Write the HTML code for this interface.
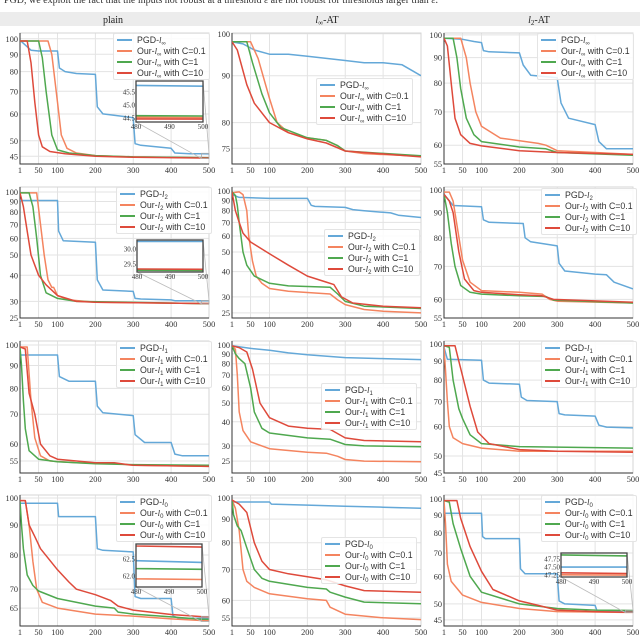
<!DOCTYPE html>
<html><head><meta charset="utf-8">
<style>
html,body{margin:0;padding:0;background:#fff;}
#wrap{position:relative;width:640px;height:636px;overflow:hidden;font-family:"Liberation Serif",serif;}
svg{position:absolute;left:0;top:0;}
.leg{position:absolute;background:rgba(255,255,255,0.85);border:1px solid #e4e4e4;border-radius:2px;font-family:"Liberation Sans",sans-serif;font-size:8.8px;color:#333;padding:1px 3px 0 3px;}
.le{height:11px;line-height:11px;white-space:nowrap;}
.le sub{font-size:6px;line-height:0;vertical-align:-2px;}
.sw{display:inline-block;width:15px;height:0;border-top:2px solid;vertical-align:middle;margin-right:5px;position:relative;top:-1px;}
</style></head><body>
<div id="wrap">
<svg id="svg" width="640" height="636"></svg>
</div>
<script>
// ---------- data (x = iteration, y = accuracy %) ----------
const xTicks = [1,50,100,200,300,400,500];
const colTitles = ["plain","∞-AT","2-AT"];
const rowNorms = ["∞","2","1","0"];
const seriesLabels = ["PGD","C=0.1","C=1","C=10"];

const yt11=[100,90,80,70,60,50,45];
const yt12=[100,90,80,75];
const yt13=[100,90,80,70,60,55];
const yt21=[100,90,80,70,60,50,40,30,25];
const yt22=[100,90,80,70,60,50,40,30,25];
const yt23=[100,90,80,70,60,55];
const yt31=[100,90,80,70,60,55];
const yt32=[100,90,80,70,60,50,40,30,25];
const yt33=[100,90,80,70,60,50,45];
const yt41=[100,90,80,70,65];
const yt42=[100,90,80,70,60,55];
const yt43=[100,90,80,70,60,50,45];

const yr11=[42.7,104], yr12=[72.1,100.2], yr13=[55,100.9];
const yr21=[25,105.6], yr22=[23.6,104.7], yr23=[55,101.4];
const yr31=[51.7,102.1], yr32=[21.7,104.9], yr33=[45,101.9];
const yr41=[60.6,101.2], yr42=[52.8,101.5], yr43=[43.2,102.7];

const p11_pgd=[[1,99],[10,97],[30,92.5],[50,92],[100,92],[105,82],[120,80],[150,79],[200,78.5],[205,63],[220,60],[300,58.5],[305,49],[320,48.5],[400,47.5],[410,46],[450,45.8],[480,45.75],[500,45.72]];
const p11_c01=[[1,98.5],[75,98.5],[85,90],[100,65],[110,52],[125,47.5],[150,46],[200,45.2],[300,44.8],[480,44.53],[500,44.52]];
const p11_c1=[[1,98.5],[50,98.5],[60,88],[70,70],[85,52],[100,47],[130,46],[200,45.2],[300,44.8],[480,44.59],[500,44.58]];
const p11_c10=[[1,98.5],[20,98.5],[30,85],[40,65],[50,52],[60,48],[80,46.5],[120,45.8],[200,45],[300,44.7],[480,44.47],[500,44.46]];

const p12_pgd=[[1,98],[30,97.5],[60,96],[100,95],[150,95],[200,94.5],[300,93.5],[350,93],[400,93],[450,92.5],[480,91],[500,90]];
const p12_c01=[[1,98],[50,98],[70,94],[100,85],[120,80],[150,78],[200,77],[250,76.5],[280,75.5],[300,74.5],[350,74],[500,73.5]];
const p12_c1=[[1,98],[40,98],[55,93],[80,86],[100,82],[130,79],[200,77],[250,76.5],[280,75.5],[300,74.5],[500,73.6]];
const p12_c10=[[1,98],[15,96],[40,88],[60,84],[100,80],[150,78],[200,76.8],[250,76],[300,74.5],[500,73.4]];

const p13_pgd=[[1,98.5],[50,98],[80,97],[100,96.5],[105,93],[120,92.5],[200,92],[210,87],[230,83],[300,82],[310,73],[330,68],[400,66],[410,61],[430,59],[500,59]];
const p13_c01=[[1,98.5],[45,98.5],[60,90],[70,80],[85,70],[100,65.5],[150,62],[250,60.5],[270,60],[300,58.5],[400,58],[500,57.5]];
const p13_c1=[[1,98.5],[25,98.5],[35,90],[45,78],[60,68],[80,63],[100,61],[200,59.5],[270,59],[300,58],[500,57.3]];
const p13_c10=[[1,98.5],[10,95],[20,80],[30,68],[45,63],[70,60.5],[100,59.8],[200,58.5],[300,58],[500,57.5]];

const p21_pgd=[[1,91],[100,91],[103,65],[115,58.5],[200,57.5],[205,38],[220,34],[300,33.5],[305,31],[320,30.8],[400,30.5],[410,30.25],[500,30.25]];
const p21_c01=[[1,99],[45,99],[55,70],[65,50],[75,38],[85,35],[90,35],[100,32],[130,30.5],[200,29.7],[480,29.31],[500,29.3]];
const p21_c1=[[1,99],[25,99],[35,85],[45,60],[55,40],[70,33],[100,31],[150,30],[480,29.29],[500,29.28]];
const p21_c10=[[1,99],[10,85],[20,65],[30,50],[50,40],[70,36],[100,32],[150,30],[200,29.7],[480,29.33],[500,29.32]];

const p22_pgd=[[1,96],[20,93],[100,92],[200,92],[210,85],[220,84],[300,83],[320,81],[350,80],[400,78.5],[420,78],[440,76],[500,74]];
const p22_c01=[[1,98],[20,99],[30,96],[40,80],[45,60],[55,45],[65,38],[80,35],[100,33],[150,32],[260,31],[280,29],[300,27.5],[350,26],[400,25.5],[500,25]];
const p22_c1=[[1,99],[10,95],[15,85],[20,70],[30,50],[40,43],[60,38],[100,35],[150,34],[260,33.5],[280,31],[300,28.5],[350,27],[500,26.3]];
const p22_c10=[[1,99],[10,80],[20,70],[30,62],[50,56],[100,49],[150,43],[200,38],[250,35.5],[270,34.5],[290,30],[320,28],[400,27],[500,26.5]];

const p23_pgd=[[1,98],[25,93],[100,92.5],[105,87],[120,86],[210,85.5],[215,80],[230,78.5],[300,77],[305,71],[320,68.5],[400,67.5],[430,67.3],[450,65],[500,63]];
const p23_c01=[[1,99],[15,99],[25,95],[35,85],[50,72],[70,65],[100,62.5],[200,62],[260,61.5],[280,60],[300,59.5],[500,59]];
const p23_c1=[[1,98],[10,90],[20,78],[30,70],[45,64],[70,62],[100,61.5],[200,61],[270,60.8],[290,59.8],[500,59]];
const p23_c10=[[1,98],[15,95],[25,90],[40,75],[55,66],[80,62.5],[100,62],[200,61.3],[260,61],[290,60],[500,59.2]];

const p31_pgd=[[1,95],[100,95],[105,85],[130,83],[200,83],[205,73],[220,70.5],[300,69.5],[305,63],[330,60.5],[400,60.5],[410,57],[430,56.5],[500,56.5]];
const p31_c01=[[1,99],[20,99],[30,75],[40,62],[55,56.5],[80,55],[150,54.5],[250,54.3],[300,53.8],[500,53.5]];
const p31_c1=[[1,99],[5,90],[10,75],[15,65],[25,58],[50,55.5],[100,54.8],[200,54.2],[300,54],[500,53.8]];
const p31_c10=[[1,99],[15,98],[25,78],[40,70],[55,60],[80,56.5],[100,55.5],[200,54.5],[250,54.5],[300,53.8],[500,53.5]];

const p32_pgd=[[1,99],[50,96],[100,94],[150,91],[200,89],[300,86],[400,85],[500,84]];
const p32_c01=[[1,99],[10,95],[15,70],[20,45],[30,36],[50,31.5],[100,29],[200,27.8],[250,27.5],[280,26.5],[300,25.5],[350,25],[500,24.8]];
const p32_c1=[[1,99],[10,90],[20,85],[35,80],[50,60],[60,45],[80,37],[100,35],[200,33],[260,32.5],[300,30.5],[350,30],[500,29.7]];
const p32_c10=[[1,99],[20,97],[40,92],[55,75],[75,50],[100,42],[150,38],[200,37],[260,36.5],[300,33],[350,32],[500,31.5]];

const p33_pgd=[[1,98],[10,91],[100,90.5],[105,80],[120,78.5],[200,78],[205,72],[220,70.5],[300,70],[305,65],[320,64.5],[400,64],[410,60.5],[430,59.8],[500,59.5]];
const p33_c01=[[1,98],[5,85],[10,70],[15,60],[25,56],[50,54],[100,52.5],[200,51.5],[500,51.5]];
const p33_c1=[[1,99],[15,98],[25,80],[40,67],[50,63],[70,57],[100,54],[200,53],[500,52.5]];
const p33_c10=[[1,99],[30,99],[40,90],[50,82],[70,68],[90,58],[120,54],[200,52],[300,51.5],[500,51.2]];

const p41_pgd=[[1,98],[100,98],[103,93],[200,93],[205,82],[220,81.5],[300,81],[305,68],[320,67.5],[400,67.5],[405,63],[420,62.5],[480,62.45],[500,62.4]];
const p41_c01=[[1,99],[15,99],[25,90],[35,78],[45,70],[60,66.5],[100,65],[200,63.5],[300,63],[400,62.3],[480,61.92],[500,61.9]];
const p41_c1=[[1,99],[5,90],[10,82],[20,74],[35,71],[50,69.5],[100,67.5],[200,65.5],[250,65],[260,64],[300,63.5],[400,62.8],[480,62.22],[500,62.2]];
const p41_c10=[[1,99],[15,99],[25,90],[40,86],[55,82],[100,75.5],[130,72],[150,70],[200,68.5],[240,67],[260,65.5],[300,64.5],[400,63.4],[480,62.88],[500,62.85]];

const p42_pgd=[[1,98],[100,98],[105,97],[200,96.5],[300,96],[400,95.5],[500,95]];
const p42_c01=[[1,99],[10,95],[20,85],[30,70],[40,66],[60,64],[100,62],[200,60.5],[250,60],[260,58],[300,56],[400,55],[500,54.5]];
const p42_c1=[[1,99],[5,92],[15,87],[25,85],[40,78],[60,70],[80,67],[100,66],[200,64],[250,63.5],[260,62.5],[300,61],[350,59.5],[500,59]];
const p42_c10=[[1,99],[20,97],[40,93],[60,80],[80,73],[100,70],[150,68.5],[200,67.5],[250,66.5],[300,64.5],[350,63],[500,62.5]];

const p43_pgd=[[1,91],[100,91],[103,78],[110,77],[200,77],[203,63],[215,61],[300,61],[305,51],[320,50],[400,49.5],[405,47.8],[480,47.5],[500,47.5]];
const p43_c01=[[1,99],[5,85],[10,65],[20,58],[50,53],[100,50.5],[200,48.5],[300,47.5],[480,47.26],[500,47.25]];
const p43_c1=[[1,99],[15,98],[25,85],[45,72],[70,60],[100,54],[150,52],[200,50],[300,48.5],[400,48],[480,47.88],[500,47.85]];
const p43_c10=[[1,99],[35,99],[45,88],[70,73],[100,62],[130,55],[200,51],[250,49.5],[300,48],[400,47.5],[480,47.32],[500,47.3]];

// inset y-limits and ticks
const in11_y=[44.35,45.92], in11_t=[44.5,45.0,45.5];
const in21_y=[29.23,30.3], in21_t=[29.5,30.0];
const in41_y=[61.68,62.94], in41_t=[62.0,62.5];
const in43_y=[47.19,47.94], in43_t=[47.25,47.5,47.75];
const insetX=[480,500], insetXT=[480,490,500];

// ---------- layout ----------
const colors=["#64a8d8","#f4845f","#4fa84f","#de4a3b"];
const colX=[[20,209],[232,421],[444,633]];
const rowY=[[33,164],[187,318],[341,473],[495,626]];
const P={
 "11":{yr:yr11,yt:yt11,s:[p11_pgd,p11_c01,p11_c1,p11_c10],leg:[113,33],inset:{box:[136,81,203,122],yr:in11_y,yt:in11_t}},
 "12":{yr:yr12,yt:yt12,s:[p12_pgd,p12_c01,p12_c1,p12_c10],leg:[316,78]},
 "13":{yr:yr13,yt:yt13,s:[p13_pgd,p13_c01,p13_c1,p13_c10],leg:[537,33]},
 "21":{yr:yr21,yt:yt21,s:[p21_pgd,p21_c01,p21_c1,p21_c10],leg:[116,187],inset:{box:[137,240,203,272],yr:in21_y,yt:in21_t}},
 "22":{yr:yr22,yt:yt22,s:[p22_pgd,p22_c01,p22_c1,p22_c10],leg:[324,229]},
 "23":{yr:yr23,yt:yt23,s:[p23_pgd,p23_c01,p23_c1,p23_c10],leg:[541,188]},
 "31":{yr:yr31,yt:yt31,s:[p31_pgd,p31_c01,p31_c1,p31_c10],leg:[116,341]},
 "32":{yr:yr32,yt:yt32,s:[p32_pgd,p32_c01,p32_c1,p32_c10],leg:[321,383]},
 "33":{yr:yr33,yt:yt33,s:[p33_pgd,p33_c01,p33_c1,p33_c10],leg:[541,341]},
 "41":{yr:yr41,yt:yt41,s:[p41_pgd,p41_c01,p41_c1,p41_c10],leg:[116,495],inset:{box:[136,544,202,587],yr:in41_y,yt:in41_t}},
 "42":{yr:yr42,yt:yt42,s:[p42_pgd,p42_c01,p42_c1,p42_c10],leg:[321,537]},
 "43":{yr:yr43,yt:yt43,s:[p43_pgd,p43_c01,p43_c1,p43_c10],leg:[541,495],inset:{box:[561,553,627,577],yr:in43_y,yt:in43_t}}
};

const NS="http://www.w3.org/2000/svg";
const svg=document.getElementById("svg");
const wrap=document.getElementById("wrap");
function mk(tag,attrs,parent){const e=document.createElementNS(NS,tag);for(const k in attrs)e.setAttribute(k,attrs[k]);(parent||svg).appendChild(e);return e;}

// header
let t0=mk("text",{x:4,y:3,"font-size":"10","fill":"#333","font-family":"Liberation Serif, serif"});


t0.textContent="PGD, we exploit the fact that the inputs not robust at a threshold ε are not robust for thresholds larger than ε.";
let band=mk("rect",{x:0,y:12,width:640,height:14,fill:"#ececec"});


const titleX=[113,327,539];
for(let c=0;c<3;c++){
  const t=mk("text",{x:titleX[c],y:23,"text-anchor":"middle","font-size":"10","fill":"#222"});
  
  
  if(c===0){t.textContent=colTitles[0];}
  else{
    const a=mk("tspan",{"font-style":"italic"},t);a.textContent="l";
    const b=mk("tspan",{"font-size":"7",dy:"2"},t);b.textContent=colTitles[c].split("-")[0];
    const d=mk("tspan",{dy:"-2"},t);d.textContent="-AT";
  }
}

function logScale(v,yr,y0,y1){const a=Math.log(yr[0]),b=Math.log(yr[1]);return y1-(Math.log(v)-a)/(b-a)*(y1-y0);}
function linScale(v,d,p0,p1){return p0+(v-d[0])/(d[1]-d[0])*(p1-p0);}

let clipId=0;
for(let r=0;r<4;r++)for(let c=0;c<3;c++){
  const key=""+(r+1)+(c+1), p=P[key];
  const [x0,x1]=colX[c],[y0,y1]=rowY[r];
  const g=mk("g",{});
  
  
  const xs=v=>linScale(v,[1,500],x0,x1);
  const ys=v=>logScale(v,p.yr,y0,y1);
  xTicks.forEach(v=>{
    const l=mk("line",{x1:xs(v),x2:xs(v),y1:y0,y2:y1,stroke:"#e3e3e3","stroke-width":"1"},g);
    
    
    const t=mk("text",{x:xs(v),y:y1+9,"text-anchor":"middle","font-size":"8.3","fill":"#333"},g);
    
    
    t.textContent=v;
  });
  p.yt.forEach(v=>{
    const l=mk("line",{x1:x0,x2:x1,y1:ys(v),y2:ys(v),stroke:"#e3e3e3","stroke-width":"1"},g);
    
    
    const t=mk("text",{x:x0-2,y:ys(v)+3,"text-anchor":"end","font-size":"8.3","fill":"#333"},g);
    
    
    t.textContent=v;
  });
  const fr=mk("rect",{x:x0,y:y0,width:x1-x0,height:y1-y0,fill:"none",stroke:"#d6d6d6","stroke-width":"1"},g);
  
  
  const sp=mk("path",{d:`M${x0},${y0}V${y1}H${x1}`,fill:"none",stroke:"#333","stroke-width":"1"},g);
  
  
  const cid="clip"+(clipId++);
  const cp=mk("clipPath",{id:cid},g);mk("rect",{x:x0,y:y0,width:x1-x0,height:y1-y0},cp);
  const sg=mk("g",{"clip-path":`url(#${cid})`},g);
  p.s.forEach((arr,i)=>{
    const d=arr.map((pt,j)=>(j?"L":"M")+xs(pt[0]).toFixed(1)+","+ys(pt[1]).toFixed(1)).join("");
    const pa=mk("path",{d:d,fill:"none",stroke:colors[i],"stroke-width":"1.5","stroke-linejoin":"round"},sg);
    
    
  });
  if(p.inset){
    const ib=p.inset.box, iyr=p.inset.yr;
    const rx0=xs(insetX[0]),rx1=xs(insetX[1]),ry0=ys(iyr[1]),ry1=ys(iyr[0]);
    const zr=mk("rect",{x:rx0,y:ry0,width:rx1-rx0,height:Math.max(1,ry1-ry0),fill:"none",stroke:"#aaa","stroke-width":"0.8"},g);
    
    
    const c1=mk("line",{x1:ib[0],y1:ib[3],x2:rx0,y2:ry1,stroke:"#bbb","stroke-width":"0.8"},g);
    
    
    const c2=mk("line",{x1:ib[2],y1:ib[1],x2:rx1,y2:ry0,stroke:"#bbb","stroke-width":"0.8"},g);
    
    
    const ig=mk("g",{},g);
    
    
    mk("rect",{x:ib[0],y:ib[1],width:ib[2]-ib[0],height:ib[3]-ib[1],fill:"#fff"},ig);
    const ixs=v=>linScale(v,insetX,ib[0],ib[2]);
    const iys=v=>linScale(v,iyr,ib[3],ib[1]);
    const icid="clip"+(clipId++);
    const icp=mk("clipPath",{id:icid},ig);mk("rect",{x:ib[0],y:ib[1],width:ib[2]-ib[0],height:ib[3]-ib[1]},icp);
    const isg=mk("g",{"clip-path":`url(#${icid})`},ig);
    p.s.forEach((arr,i)=>{
      const d=arr.map((pt,j)=>(j?"L":"M")+ixs(pt[0]).toFixed(1)+","+iys(pt[1]).toFixed(1)).join("");
      const pa=mk("path",{d:d,fill:"none",stroke:colors[i],"stroke-width":"1.6"},isg);
      
      
    });
    mk("rect",{x:ib[0],y:ib[1],width:ib[2]-ib[0],height:ib[3]-ib[1],fill:"none",stroke:"#444","stroke-width":"1.3"},ig);
    insetXT.forEach(v=>{
      const t=mk("text",{x:ixs(v),y:ib[3]+7,"text-anchor":"middle","font-size":"7","fill":"#333"},ig);
      
      
      t.textContent=v;
    });
    p.inset.yt.forEach(v=>{
      const t=mk("text",{x:ib[0]-1,y:iys(v)+2.5,"text-anchor":"end","font-size":"7","fill":"#333"},ig);
      
      
      t.textContent=v.toFixed(v===47.25||v===47.5||v===47.75?2:1);
    });
  }
  const lg=document.createElement("div");
  lg.className="leg";
  lg.style.left=p.leg[0]+"px";lg.style.top=p.leg[1]+"px";
  
  
  const nm=rowNorms[r];
  for(let i=0;i<4;i++){
    const e=document.createElement("div");e.className="le";
    
    
    const pre=i===0?"PGD-":"Our-";
    const suf=i===0?"":" with "+seriesLabels[i];
    e.innerHTML=`<span class="sw" style="border-color:${colors[i]}"></span>${pre}<i style="font-family:'Liberation Serif',serif">l</i><sub>${nm}</sub>${suf}`;
    lg.appendChild(e);
  }
  wrap.appendChild(lg);
}
</script>
</body></html>
